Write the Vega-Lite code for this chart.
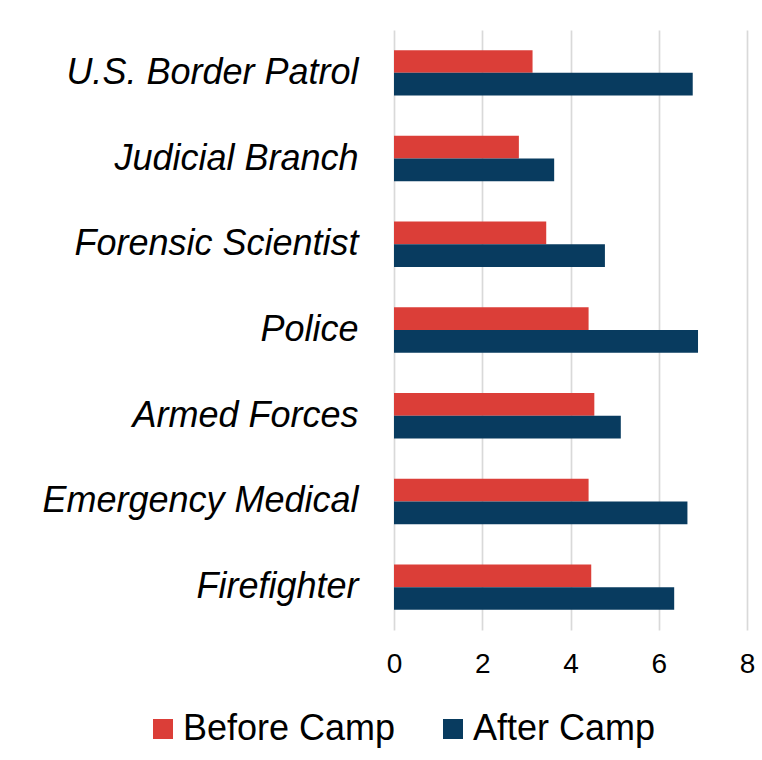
{
  "$schema": "https://vega.github.io/schema/vega-lite/v6.json",
  "width": 353,
  "height": 600,
  "autosize": {"type": "none"},
  "padding": {"left": 394, "top": 30, "right": 15, "bottom": 130},
  "background": "#ffffff",
  "config": {"view": {"stroke": null}, "font": "Liberation Sans"},
  "data": {
    "values": [
      {"career": "U.S. Border Patrol", "period": "Before Camp", "value": 3.14},
      {"career": "U.S. Border Patrol", "period": "After Camp", "value": 6.77},
      {"career": "Judicial Branch", "period": "Before Camp", "value": 2.83},
      {"career": "Judicial Branch", "period": "After Camp", "value": 3.63},
      {"career": "Forensic Scientist", "period": "Before Camp", "value": 3.45},
      {"career": "Forensic Scientist", "period": "After Camp", "value": 4.78},
      {"career": "Police", "period": "Before Camp", "value": 4.41},
      {"career": "Police", "period": "After Camp", "value": 6.89},
      {"career": "Armed Forces", "period": "Before Camp", "value": 4.54},
      {"career": "Armed Forces", "period": "After Camp", "value": 5.14},
      {"career": "Emergency Medical", "period": "Before Camp", "value": 4.41},
      {"career": "Emergency Medical", "period": "After Camp", "value": 6.65},
      {"career": "Firefighter", "period": "Before Camp", "value": 4.47},
      {"career": "Firefighter", "period": "After Camp", "value": 6.35}
    ]
  },
  "mark": {"type": "bar"},
  "encoding": {
    "y": {
      "field": "career",
      "type": "nominal",
      "sort": null,
      "scale": {"paddingInner": 0.47, "paddingOuter": 0.235},
      "axis": {
        "title": null,
        "domain": false,
        "ticks": false,
        "grid": false,
        "labelFont": "Liberation Sans",
        "labelFontSize": 36,
        "labelFontStyle": "italic",
        "labelColor": "#000000",
        "labelPadding": 36,
        "labelLimit": 400
      }
    },
    "yOffset": {
      "field": "period",
      "type": "nominal",
      "sort": ["Before Camp", "After Camp"],
      "scale": {"paddingInner": 0, "paddingOuter": 0}
    },
    "x": {
      "field": "value",
      "type": "quantitative",
      "scale": {"domain": [0, 8], "nice": false},
      "axis": {
        "title": null,
        "values": [0, 2, 4, 6, 8],
        "domain": false,
        "ticks": false,
        "grid": true,
        "gridColor": "#D9D9D9",
        "gridWidth": 1.7,
        "labelFlush": false,
        "labelOverlap": false,
        "labelFont": "Liberation Sans",
        "labelFontSize": 28,
        "labelColor": "#000000",
        "labelPadding": 20
      }
    },
    "color": {
      "field": "period",
      "type": "nominal",
      "sort": ["Before Camp", "After Camp"],
      "scale": {"domain": ["Before Camp", "After Camp"], "range": ["#DB3E38", "#083B5F"]},
      "legend": {
        "title": null,
        "orient": "none",
        "direction": "horizontal",
        "legendX": -249,
        "legendY": 681,
        "symbolType": "square",
        "symbolSize": 400,
        "symbolStrokeWidth": 0,
        "symbolOpacity": 1,
        "labelFont": "Liberation Sans",
        "labelFontSize": 36,
        "labelColor": "#000000",
        "labelOffset": 2,
        "columnPadding": 39,
        "labelLimit": 400
      }
    }
  }
}
